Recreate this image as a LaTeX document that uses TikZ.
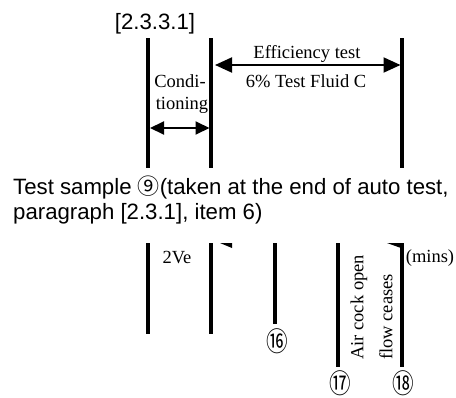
\documentclass[tikz,border=0pt]{standalone}
\usepackage{fontspec}
\setmainfont{Liberation Serif}
\newfontfamily\arialf{Liberation Sans}
\newfontfamily\timesf{Liberation Serif}
\newfontfamily\cjkf{Noto Sans CJK JP}
\usetikzlibrary{arrows.meta}
\newcommand{\circnum}[1]{\scalebox{0.8}[1]{\cjkf #1}}
\begin{document}
\begin{tikzpicture}[x=1pt,y=-1pt,
  tl/.style={line width=3.2pt},
  dimarrow/.style={line width=2pt,{Triangle[length=17pt,width=15pt]}-{Triangle[length=17pt,width=15pt]}},
  smallarrow/.style={line width=2pt,{Triangle[length=14pt,width=13pt]}-{Triangle[length=14pt,width=13pt]}},
  sanslabel/.style={inner sep=0pt,font=\arialf\fontsize{22.2}{25}\selectfont},
  seriflabel/.style={inner sep=0pt,font=\timesf\fontsize{18.5}{22}\selectfont},
  numlabel/.style={inner sep=0pt,font=\cjkf\fontsize{27}{28}\selectfont},
  wedge/.style={fill=black,draw=none}]
\useasboundingbox (0,0) rectangle (456,397);
% top timeline
\coordinate (a1) at (148,38); \coordinate (a1b) at (148,168);
\coordinate (a2) at (211,38); \coordinate (a2b) at (211,168);
\coordinate (a3) at (402,38); \coordinate (a3b) at (402,168);
\draw[tl] (a1) -- (a1b);
\draw[tl] (a2) -- (a2b);
\draw[tl] (a3) -- (a3b);
\node[sanslabel,anchor=base] (ref) at (155,29) {[2.3.3.1]};
\coordinate (effL) at (215,65); \coordinate (effR) at (400.5,65);
\draw[dimarrow] (effL) -- (effR);
\node[seriflabel] (eff1) at (307,54) {Efficiency test};
\node[seriflabel] (eff2) at (306,81) {6\% Test Fluid C};
\node[seriflabel] (cond1) at (180,81) {Condi-};
\node[seriflabel] (cond2) at (182,105) {tioning};
\coordinate (condL) at (150,128); \coordinate (condR) at (209.5,128);
\draw[smallarrow] (condL) -- (condR);
% description
\node[sanslabel,anchor=base west] (desc1) at (13,194) {Test sample {\cjkf\fontsize{22}{24}\selectfont ⑨}(taken at the end of auto test,};
\node[sanslabel,anchor=base west] (desc2) at (13,219) {paragraph [2.3.1], item 6)};
% bottom timeline
\coordinate (b1) at (148,243); \coordinate (b1b) at (148,334);
\coordinate (b2) at (211,243); \coordinate (b2b) at (211,334);
\coordinate (b3) at (275,243); \coordinate (b3b) at (275,324);
\coordinate (b4) at (338,243); \coordinate (b4b) at (338,367);
\coordinate (b5) at (402,243); \coordinate (b5b) at (402,367);
\draw[tl] (b1) -- (b1b);
\draw[tl] (b2) -- (b2b);
\draw[tl] (b3) -- (b3b);
\draw[tl] (b4) -- (b4b);
\draw[tl] (b5) -- (b5b);
\fill[wedge] (220,243) -- (232,243) -- (232,248) -- cycle;
\fill[wedge] (387,243) -- (401,243) -- (401,248) -- cycle;
\node[seriflabel] (ve) at (177,258) {2Ve};
\node[seriflabel] (mins) at (430,258) {(mins)};
\node[seriflabel,rotate=90,anchor=west] (air) at (359,360) {Air cock open};
\node[seriflabel,rotate=90,anchor=west] (flow) at (386,360) {flow ceases};
\node[numlabel] (n16) at (277,341) {\circnum{⑯}};
\node[numlabel] (n17) at (340,383) {\circnum{⑰}};
\node[numlabel] (n18) at (403,383) {\circnum{⑱}};
\end{tikzpicture}
\end{document}
